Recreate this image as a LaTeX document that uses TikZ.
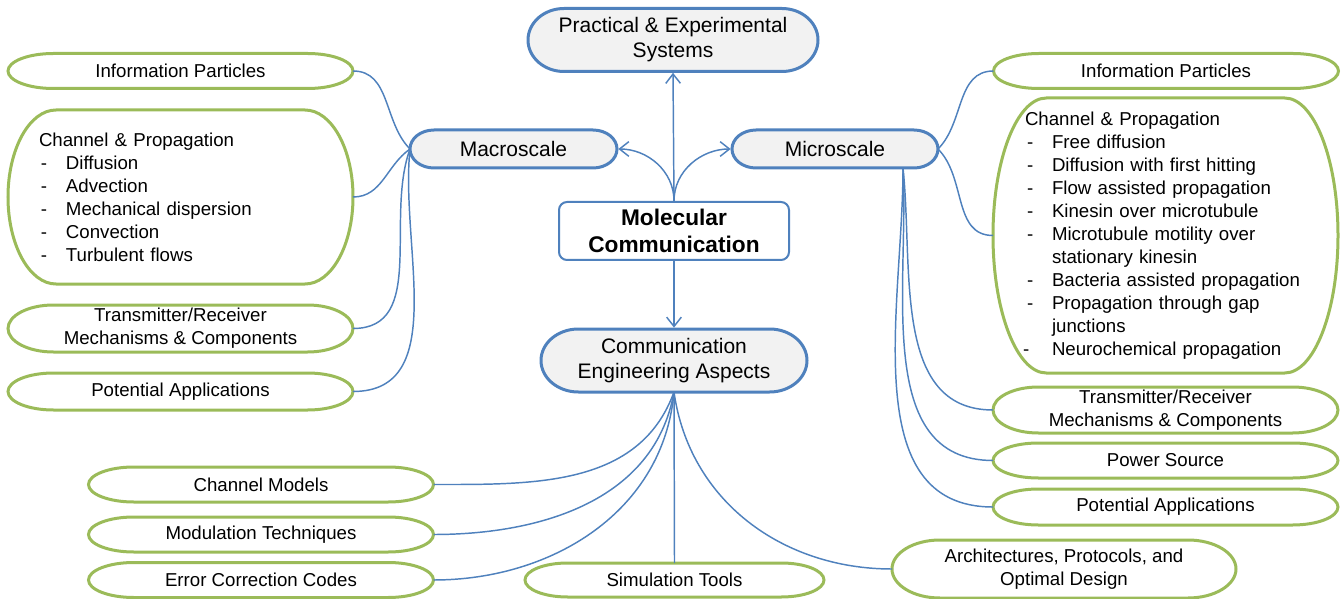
\documentclass[tikz,border=0pt]{standalone}
\usepackage{fontspec}
\setmainfont{Liberation Sans}
\usetikzlibrary{arrows.meta,calc,backgrounds}

\definecolor{mcblue}{HTML}{4F81BD}
\definecolor{mcgreen}{HTML}{9BBB59}
\definecolor{mcgray}{HTML}{F2F2F2}

% dash in front of a list entry, and the indent of a wrapped entry
\newcommand{\bul}{\makebox[20.25pt][l]{\hspace{1.5pt}-}}
\newcommand{\indentline}{\hspace*{20.25pt}}
% outline with elliptic ends round a node: #1 node, #2 end radius, #3 style
\newcommand{\capsule}[3]{%
  \draw[#3] let \p1=(#1.north), \p2=(#1.south), \n1={(\y1-\y2)/2} in
    ([xshift=#2]#1.north west) -- ([xshift=-#2]#1.north east)
    arc[start angle=90, end angle=-90, x radius=#2, y radius=\n1]
    -- ([xshift=#2]#1.south west)
    arc[start angle=270, end angle=90, x radius=#2, y radius=\n1] -- cycle;}

\tikzset{
  leaf/.style={draw=none, outer sep=0pt, inner sep=0pt, align=center,
    minimum width=258.75pt, minimum height=26.25pt,
    font=\fontsize{14}{17.25}\selectfont},
  topic/.style={leaf, font=\fontsize{15.75}{18.75}\selectfont},
  listbox/.style={leaf, align=left},
  link/.style={mcblue, line width=1.1pt},
  tip/.style={-{Straight Barb[length=7pt,width=11pt]}, shorten >=1pt},
}

\begin{document}
\begin{tikzpicture}[x=0.75pt, y=-0.75pt]
    \useasboundingbox (0,0) rectangle (1343,599);

    % centre and main branches
    \node[draw=mcblue, line width=1.5pt, rounded corners=6pt, fill=white,
          minimum width=172.5pt, minimum height=43.5pt, align=center,
          font=\fontsize{17}{20.25}\selectfont\bfseries] (mc) at (674,231)
          {Molecular\\Communication};
    \node[topic, minimum width=217.5pt, minimum height=47.25pt] (pes) at (673,40)
          {Practical \& Experimental\\Systems};
    \node[topic, minimum width=155.25pt, minimum height=28.5pt] (macro) at (513.5,149) {Macroscale};
    \node[topic, minimum width=154.5pt, minimum height=28.5pt] (micro) at (835,149) {Microscale};
    \node[topic, minimum width=199.5pt, minimum height=47.25pt] (cea) at (674,360.5)
          {Communication\\Engineering Aspects};

    % macroscale leaves
    \node[leaf] (ipl) at (180.5,71) {Information Particles};
    \node[listbox, minimum height=130.5pt, text width=212.25pt, inner xsep=23.25pt] (cpl) at (180.5,197)
          {Channel \& Propagation\\
           \bul Diffusion\\
           \bul Advection\\
           \bul Mechanical dispersion\\
           \bul Convection\\
           \bul Turbulent flows};
    \node[leaf, minimum height=35.25pt] (tpl) at (180.5,328.5)
          {Transmitter/Receiver\\Mechanisms \& Components};
    \node[leaf, minimum height=27.75pt] (apl) at (180.5,391.5) {Potential Applications};

    % microscale leaves
    \node[leaf] (ipr) at (1166,71) {Information Particles};
    \node[listbox, minimum height=206.25pt, text width=210.75pt, inner xsep=24pt] (cpr) at (1165.5,235.5)
          {Channel \& Propagation\\
           \bul Free diffusion\\
           \bul Diffusion with first hitting\\
           \bul Flow assisted propagation\\
           \bul Kinesin over microtubule\\
           \bul Microtubule motility over\\
           \indentline stationary kinesin\\
           \bul Bacteria assisted propagation\\
           \bul Propagation through gap\\
           \indentline junctions\\
           \makebox[20.25pt][l]{\hspace{-1.5pt}-}Neurochemical propagation};
    \node[leaf, minimum height=34.5pt] (tpr) at (1165.5,410)
          {Transmitter/Receiver\\Mechanisms \& Components};
    \node[leaf] (psr) at (1165.5,460.5) {Power Source};
    \node[leaf, minimum height=27pt] (apr) at (1165.5,507) {Potential Applications};

    % engineering leaves
    \node[leaf] (chm) at (261,484.5) {Channel Models};
    \node[leaf] (mod) at (261,534.5) {Modulation Techniques};
    \node[leaf] (ecc) at (261,580) {Error Correction Codes};
    \node[leaf, minimum width=224.25pt, minimum height=25.5pt] (sim) at (674.5,580) {Simulation Tools};
    \node[leaf, minimum width=258pt, minimum height=43.5pt] (arch) at (1064,569)
          {Architectures, Protocols, and\\Optimal Design};

    \begin{pgfonlayer}{background}
        \foreach \nd/\rx in {ipl/34pt, cpl/36pt, tpl/34pt, apl/34pt, ipr/34pt, cpr/40pt,
                             tpr/34pt, psr/34pt, apr/34pt, chm/34pt, mod/34pt, ecc/34pt,
                             sim/32pt, arch/36pt} {
            \capsule{\nd}{\rx}{draw=mcgreen, line width=2.25pt, fill=white}
        }
        \foreach \nd/\rx in {pes/27pt, macro/18pt, micro/18pt, cea/28pt} {
            \capsule{\nd}{\rx}{draw=mcblue, line width=2.25pt, fill=mcgray}
        }
    \end{pgfonlayer}

    % arrows out of the centre
    \draw[link, tip] (mc.north) -- (pes.south);
    \draw[link, tip] (mc.north) to[out=90, in=0] (macro.east);
    \draw[link, tip] (mc.north) to[out=90, in=180] (micro.west);
    \draw[link, tip] (mc.south) -- (cea.north);

    % macroscale branches
    \draw[link] (macro.west) to[out=135, in=0] (ipl.east);
    \draw[link] (macro.west) to[out=215, in=0] (cpl.east);
    \draw[link] (macro.west) to[out=250, in=0] (tpl.east);
    \draw[link] (macro.west) to[out=264, in=0] (apl.east);

    % microscale branches
    \coordinate (mcr) at ($(micro.south)+(68,0)$);
    \draw[link] (micro.east) to[out=45, in=180] (ipr.west);
    \draw[link] (micro.east) to[out=-45, in=180] (cpr.west);
    \draw[link] (mcr) to[out=-84, in=180] (tpr.west);
    \draw[link] (mcr) to[out=-87, in=180] (psr.west);
    \draw[link] (mcr) to[out=-90, in=180] (apr.west);

    % engineering branches
    \draw[link] (cea.south) to[out=-110, in=0] (chm.east);
    \draw[link] (cea.south) to[out=-100, in=0] (mod.east);
    \draw[link] (cea.south) to[out=-95, in=0] (ecc.east);
    \draw[link] (cea.south) -- (sim.north);
    \draw[link] (cea.south) to[out=-82, in=180] (arch.west);
\end{tikzpicture}
\end{document}
